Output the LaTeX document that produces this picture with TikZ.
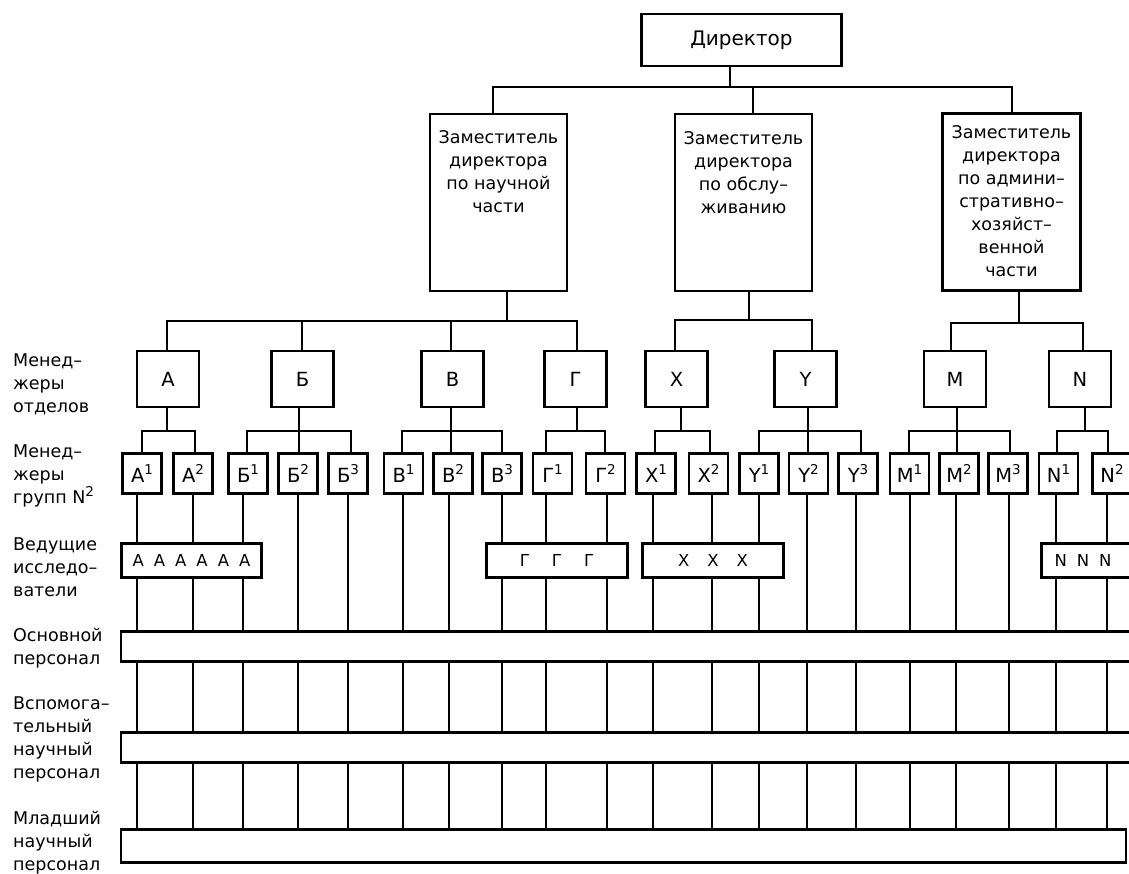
\documentclass[tikz,border=0pt]{standalone}
\usepackage{fontspec}
\setmainfont{DejaVu Sans}
\newcommand\gsup[1]{\raisebox{0.42em}{\fontsize{13.5}{13.5}\selectfont #1}}
\begin{document}
\begin{tikzpicture}[x=1pt,y=-1pt,
  box/.style={draw, line width=2.8pt, fill=white, inner sep=0pt},
  ln/.style={line width=2.4pt},
  lbl/.style={anchor=north west, align=left, inner sep=0pt, font=\fontsize{17.5}{23}\selectfont},
  dtext/.style={anchor=north, align=center, inner sep=0pt, font=\fontsize{17.5}{23}\selectfont},
  dep/.style={box, minimum width=137pt, minimum height=177pt},
  dept/.style={box, minimum width=62pt, minimum height=56pt, font=\fontsize{19.5}{19.5}\selectfont},
  grp/.style={box, minimum width=39pt, minimum height=40pt, font=\fontsize{19.5}{19.5}\selectfont},
  res/.style={box, minimum width=141pt, minimum height=34pt, font=\fontsize{16.5}{16.5}\selectfont},
  bar/.style={draw, line width=2.6pt, fill=white, inner sep=0pt}
]
\useasboundingbox (0,0) rectangle (1129,874);
\clip (0,0) rectangle (1129,874);

% director and deputies
\node[box, minimum width=200pt, minimum height=52pt, font=\fontsize{20}{20}\selectfont] (dir) at (741.5,40) {Директор};
\node[dep] (dep1) at (498.5,202.5) {};
\node[dep] (dep2) at (743.5,202.5) {};
\node[dep, minimum width=138pt] (dep3) at (1011.5,202) {};
\node[dtext] (t1) at (498.5,130.5) {Заместитель\\директора\\по научной\\части};
\node[dtext] (t2) at (743.5,131.5) {Заместитель\\директора\\по обслу–\\живанию};
\node[dtext] (t3) at (1011.5,125) {Заместитель\\директора\\по админи–\\стративно–\\хозяйст–\\венной\\части};

% department managers
\node[dept] (dA) at (168,379) {А};
\node[dept] (dB) at (302.5,379) {Б};
\node[dept] (dV) at (452.5,379) {В};
\node[dept] (dG) at (575.5,379) {Г};
\node[dept] (dX) at (676.5,379) {X};
\node[dept] (dY) at (805.5,379) {Y};
\node[dept] (dM) at (955,379) {M};
\node[dept] (dN) at (1080,379) {N};

% group managers
\node[grp] (gA1) at (142,473.5) {А\gsup{1}};
\node[grp] (gA2) at (193,473.5) {А\gsup{2}};
\node[grp] (gB1) at (248,473.5) {Б\gsup{1}};
\node[grp] (gB2) at (298,473.5) {Б\gsup{2}};
\node[grp] (gB3) at (348,473.5) {Б\gsup{3}};
\node[grp] (gV1) at (403.5,473.5) {В\gsup{1}};
\node[grp] (gV2) at (453,473.5) {В\gsup{2}};
\node[grp] (gV3) at (502,473.5) {В\gsup{3}};
\node[grp] (gG1) at (552.5,473.5) {Г\gsup{1}};
\node[grp] (gG2) at (605.5,473.5) {Г\gsup{2}};
\node[grp] (gX1) at (656,473.5) {X\gsup{1}};
\node[grp] (gX2) at (708.5,473.5) {X\gsup{2}};
\node[grp] (gY1) at (759,473.5) {Y\gsup{1}};
\node[grp] (gY2) at (808.5,473.5) {Y\gsup{2}};
\node[grp] (gY3) at (858,473.5) {Y\gsup{3}};
\node[grp] (gM1) at (909.5,473.5) {M\gsup{1}};
\node[grp] (gM2) at (959,473.5) {M\gsup{2}};
\node[grp] (gM3) at (1008,473.5) {M\gsup{3}};
\node[grp] (gN1) at (1058.5,473.5) {N\gsup{1}};
\node[grp] (gN2) at (1112,473.5) {N\gsup{2}};

% leading researchers
\node[res, minimum width=140pt] (rA) at (191.5,560.5) {А\hspace{10pt}А\hspace{10pt}А\hspace{10pt}А\hspace{10pt}А\hspace{10pt}А};
\node[res] (rG) at (557,560.5) {Г\hspace{22pt}Г\hspace{22pt}Г};
\node[res] (rX) at (713,560.5) {X\hspace{18pt}X\hspace{18pt}X};
\node[res] (rN) at (1112,560.5) {};
\node[inner sep=0pt, font=\fontsize{16.5}{16.5}\selectfont] (rNt) at (1083,560.5) {N\hspace{10pt}N\hspace{10pt}N};

% staff bars
\node[bar, minimum width=1019pt, minimum height=30pt] (bar1) at (630.5,646.5) {};
\node[bar, minimum width=1019pt, minimum height=30pt] (bar2) at (630.5,747.5) {};
\node[bar, minimum width=1005pt, minimum height=33pt] (bar3) at (623.5,846) {};

% row labels
\node[lbl] (L1) at (13,354) {Менед–\\жеры\\отделов};
\node[lbl] (L2) at (13,445) {Менед–\\жеры\\групп N\gsup{2}};
\node[lbl] (L3) at (13,538) {Ведущие\\исследо–\\ватели};
\node[lbl] (L4) at (13,628) {Основной\\персонал};
\node[lbl] (L5) at (13,697) {Вспомога–\\тельный\\научный\\персонал};
\node[lbl] (L6) at (13,811) {Младший\\научный\\персонал};

% director -> deputies
\coordinate (t0) at (730,87);
\coordinate (tA) at (493,87);
\coordinate (tB) at (753,87);
\coordinate (tC) at (1012,87);
\draw[ln] (dir.south -| t0) -- (t0);
\draw[ln] (dep1.north -| tA) -- (tA) -- (tC) -- (dep3.north -| tC);
\draw[ln] (tB) -- (dep2.north -| tB);

% deputies -> departments
\coordinate (u1) at (507,321); \coordinate (uA) at (167,321); \coordinate (uB) at (302,321);
\coordinate (uV) at (451,321); \coordinate (uG) at (577,321);
\draw[ln] (dep1.south -| u1) -- (u1);
\draw[ln] (dA.north -| uA) -- (uA) -- (uG) -- (dG.north -| uG);
\draw[ln] (uB) -- (dB.north -| uB);
\draw[ln] (uV) -- (dV.north -| uV);
\coordinate (u2) at (749,320); \coordinate (uX) at (675,320); \coordinate (uY) at (812,320);
\draw[ln] (dep2.south -| u2) -- (u2);
\draw[ln] (dX.north -| uX) -- (uX) -- (uY) -- (dY.north -| uY);
\coordinate (u3) at (1019,323); \coordinate (uM) at (951,323); \coordinate (uN) at (1083,323);
\draw[ln] (dep3.south -| u3) -- (u3);
\draw[ln] (dM.north -| uM) -- (uM) -- (uN) -- (dN.north -| uN);

% departments -> groups
\coordinate (jA) at (167,431); \coordinate (jA1) at (142,431); \coordinate (jA2) at (195,431);
\draw[ln] (dA.south -| jA) -- (jA);
\draw[ln] (gA1.north -| jA1) -- (jA1) -- (jA2) -- (gA2.north -| jA2);
\coordinate (jB) at (299,431); \coordinate (jB1) at (247,431); \coordinate (jB3) at (351,431);
\draw[ln] (dB.south -| jB) -- (gB2.north -| jB);
\draw[ln] (gB1.north -| jB1) -- (jB1) -- (jB3) -- (gB3.north -| jB3);
\coordinate (jV) at (451,431); \coordinate (jV1) at (402,431); \coordinate (jV3) at (502,431);
\draw[ln] (dV.south -| jV) -- (gV2.north -| jV);
\draw[ln] (gV1.north -| jV1) -- (jV1) -- (jV3) -- (gV3.north -| jV3);
\coordinate (jG) at (577,431); \coordinate (jG1) at (546,431); \coordinate (jG2) at (605,431);
\draw[ln] (dG.south -| jG) -- (jG);
\draw[ln] (gG1.north -| jG1) -- (jG1) -- (jG2) -- (gG2.north -| jG2);
\coordinate (jX) at (681,431); \coordinate (jX1) at (655,431); \coordinate (jX2) at (710,431);
\draw[ln] (dX.south -| jX) -- (jX);
\draw[ln] (gX1.north -| jX1) -- (jX1) -- (jX2) -- (gX2.north -| jX2);
\coordinate (jY) at (808,431); \coordinate (jY1) at (759,431); \coordinate (jY3) at (861,431);
\draw[ln] (dY.south -| jY) -- (gY2.north -| jY);
\draw[ln] (gY1.north -| jY1) -- (jY1) -- (jY3) -- (gY3.north -| jY3);
\coordinate (jM) at (957,431); \coordinate (jM1) at (909,431); \coordinate (jM3) at (1010,431);
\draw[ln] (dM.south -| jM) -- (gM2.north -| jM);
\draw[ln] (gM1.north -| jM1) -- (jM1) -- (jM3) -- (gM3.north -| jM3);
\coordinate (jN) at (1085,431); \coordinate (jN1) at (1057,431); \coordinate (jN2) at (1108,431);
\draw[ln] (dN.south -| jN) -- (jN);
\draw[ln] (gN1.north -| jN1) -- (jN1) -- (jN2) -- (gN2.north -| jN2);

% groups -> researchers -> staff
\foreach \g/\x/\r in {gA1/137/rA, gA2/193/rA, gB1/243/rA, gV3/502/rG, gG1/546/rG, gG2/607/rG, gX1/653/rX, gX2/712/rX, gY1/759/rX, gN1/1056/rN, gN2/1107/rN}{
  \coordinate (c\g) at (\x,0);
  \draw[ln] (\g.south -| c\g) -- (\r.north -| c\g);
  \draw[ln] (\r.south -| c\g) -- (bar1.north -| c\g);
}
\foreach \g/\x in {gB2/298, gB3/348, gV1/403, gV2/449, gY2/807, gY3/856, gM1/910, gM2/956, gM3/1009}{
  \coordinate (c\g) at (\x,0);
  \draw[ln] (\g.south -| c\g) -- (bar1.north -| c\g);
}
\foreach \g in {gA1,gA2,gB1,gB2,gB3,gV1,gV2,gV3,gG1,gG2,gX1,gX2,gY1,gY2,gY3,gM1,gM2,gM3,gN1,gN2}{
  \draw[ln] (bar1.south -| c\g) -- (bar2.north -| c\g);
  \draw[ln] (bar2.south -| c\g) -- (bar3.north -| c\g);
}
\end{tikzpicture}
\end{document}
